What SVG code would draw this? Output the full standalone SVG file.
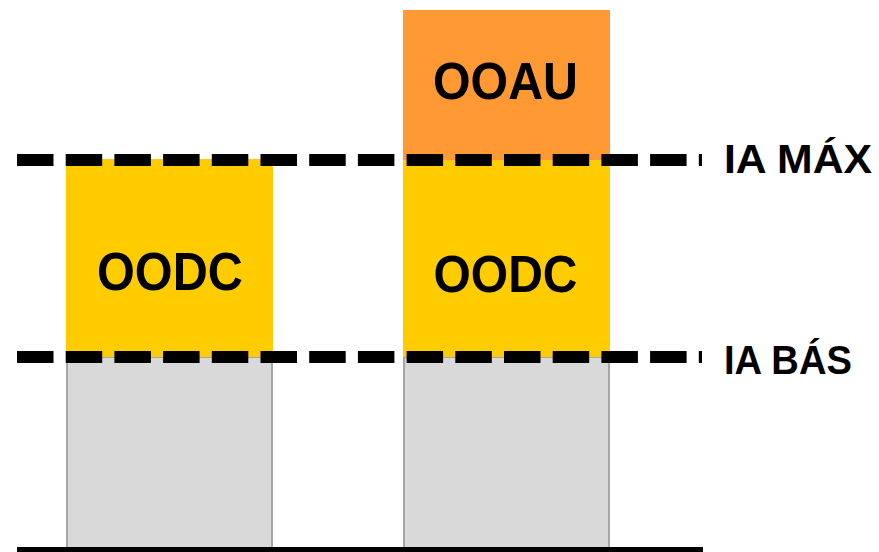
<svg xmlns="http://www.w3.org/2000/svg" width="879" height="552" viewBox="0 0 879 552">
<style>
.lbl{font-family:"Liberation Sans",Arial,sans-serif;font-weight:bold;fill:#000;}
.gray{fill:#D9D9D9;stroke:#A6A6A6;stroke-width:2;}
.dash{stroke:#000;stroke-width:12;stroke-dasharray:36.5 12.2;fill:none;}
</style>
<rect width="879" height="552" fill="#fff"/>
<g id="left-col">
  <rect class="gray" x="67" y="357" width="205" height="200"/>
  <rect x="66" y="159" width="207" height="198" fill="#FFCC00"/>
  <text class="lbl" x="170" y="290" font-size="53" text-anchor="middle" textLength="146" lengthAdjust="spacingAndGlyphs">OODC</text>
</g>
<g id="right-col">
  <rect class="gray" x="404" y="357" width="205" height="200"/>
  <rect x="403" y="159" width="207" height="198" fill="#FFCC00"/>
  <rect x="403" y="10" width="207" height="150" fill="#FF9933"/>
  <text class="lbl" x="505.5" y="292" font-size="51" text-anchor="middle" textLength="144" lengthAdjust="spacingAndGlyphs">OODC</text>
  <text class="lbl" x="505.5" y="99" font-size="51" text-anchor="middle" textLength="145" lengthAdjust="spacingAndGlyphs">OOAU</text>
</g>
<g id="connectors">
  <line class="dash" x1="17" y1="160" x2="702" y2="160"/>
  <line class="dash" x1="17" y1="357" x2="702" y2="357"/>
  <rect x="17" y="547" width="686" height="6" fill="#000"/>
</g>
<g id="labels">
  <text class="lbl" x="724" y="173" font-size="40" textLength="148" lengthAdjust="spacingAndGlyphs">IA MÁX</text>
  <text class="lbl" x="724" y="374" font-size="40" textLength="128" lengthAdjust="spacingAndGlyphs">IA BÁS</text>
</g>
</svg>
